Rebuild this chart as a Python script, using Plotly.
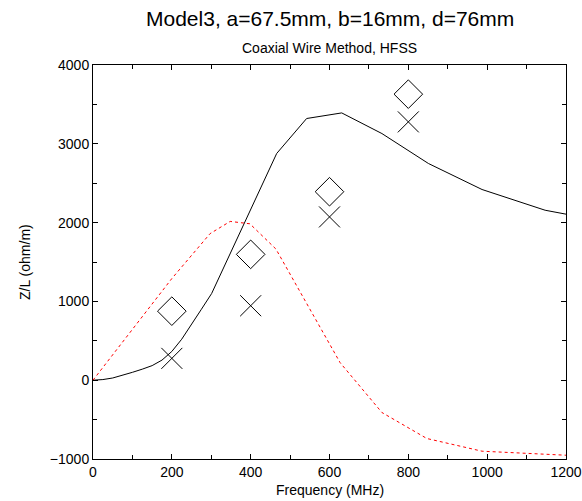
import plotly.graph_objects as go

# Black solid curve
black_x = [0, 25, 50, 75, 100, 125, 150, 175, 200, 225, 250, 275, 301, 466, 542, 631, 733, 851, 987, 1147, 1200]
black_y = [0, 8, 28, 60, 100, 140, 185, 255, 365, 520, 705, 900, 1100, 2877, 3321, 3392, 3130, 2750, 2420, 2157, 2107]

# Red dotted curve
red_x = [0, 100, 200, 297, 348, 398, 464, 627, 733, 847, 987, 1200]
red_y = [0, 640, 1290, 1860, 2015, 1985, 1665, 222, -410, -740, -901, -952]

# Measurement markers
meas_x = [200, 400, 600, 800]
diamond_y = [876, 1597, 2392, 3630]
cross_y = [277, 945, 2072, 3278]

title_text = "Model3, a=67.5mm, b=16mm, d=76mm"
subtitle_text = "Coaxial Wire Method, HFSS"
x_title = "Frequency (MHz)"
y_title = "Z/L (ohm/m)"

FONT = "Liberation Sans, Arial, sans-serif"
W, H = 582, 501
L, T, R, B = 93, 65, 16, 42
PW, PH = W - L - R, H - T - B

def px_x(p):
    return (p - L) / PW

def px_y(p):
    return (H - B - p) / PH

fig = go.Figure()
fig.add_trace(go.Scatter(x=black_x, y=black_y, mode="lines",
                         line=dict(color="black", width=1), showlegend=False))
fig.add_trace(go.Scatter(x=red_x, y=red_y, mode="lines",
                         line=dict(color="red", width=1, dash="dot"), showlegend=False))
fig.add_trace(go.Scatter(x=meas_x, y=diamond_y, mode="markers",
                         marker=dict(symbol="diamond-open", size=22, color="black",
                                     line=dict(color="black", width=1)), showlegend=False))
fig.add_trace(go.Scatter(x=meas_x, y=cross_y, mode="markers",
                         marker=dict(symbol="x-thin-open", size=21, color="black",
                                     line=dict(color="black", width=1)), showlegend=False))

axis_common = dict(
    showgrid=False, zeroline=False, showline=True, linecolor="black", linewidth=1,
    mirror="allticks", ticks="inside", ticklen=5, tickcolor="black", tickwidth=1,
    automargin=False,
    tickfont=dict(family=FONT, size=14, color="black"),
)
fig.update_xaxes(range=[0, 1200], dtick=200, tick0=0,
                 minor=dict(dtick=100, ticks="inside", ticklen=4, tickcolor="black"),
                 **axis_common)
fig.update_yaxes(range=[-1000, 4000], dtick=1000, tick0=0,
                 minor=dict(dtick=500, ticks="inside", ticklen=4, tickcolor="black"),
                 **axis_common)

fig.update_layout(
    template="none",
    width=W, height=H,
    margin=dict(l=L, r=R, t=T, b=B, autoexpand=False),
    paper_bgcolor="white", plot_bgcolor="white",
    font=dict(family=FONT, color="black"),
    annotations=[
        dict(text=title_text, xref="paper", yref="paper", x=0.5, y=px_y(19),
             xanchor="center", yanchor="middle", showarrow=False,
             font=dict(size=21, family=FONT, color="black")),
        dict(text=subtitle_text, xref="paper", yref="paper", x=0.5, y=px_y(48),
             xanchor="center", yanchor="middle", showarrow=False,
             font=dict(size=14, family=FONT, color="black")),
        dict(text=x_title, xref="paper", yref="paper", x=0.5, y=px_y(490),
             xanchor="center", yanchor="middle", showarrow=False,
             font=dict(size=14, family=FONT, color="black")),
        dict(text=y_title, xref="paper", yref="paper", x=px_x(25), y=0.5,
             xanchor="center", yanchor="middle", showarrow=False, textangle=-90,
             font=dict(size=14, family=FONT, color="black")),
    ],
)

fig.write_html(
    "out.html",
    config={"displayModeBar": False},
    post_script="document.body.style.margin='0';document.body.style.overflow='hidden';",
)
